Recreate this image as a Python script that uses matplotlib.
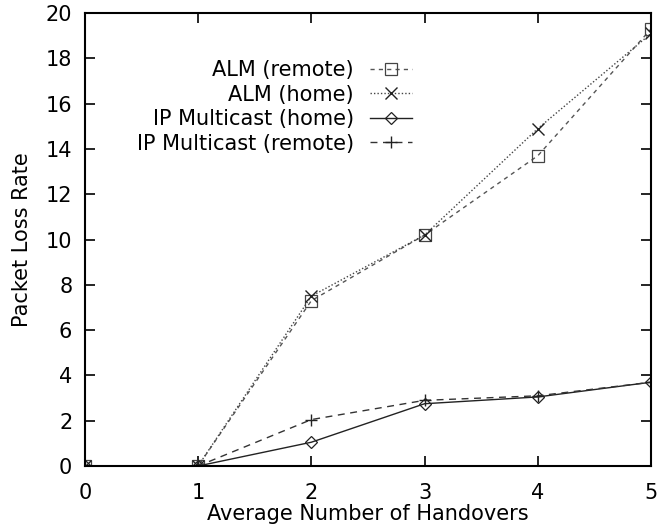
import matplotlib
matplotlib.use('Agg')
import matplotlib.pyplot as plt

handovers = [0, 1, 2, 3, 4, 5]
alm_remote = [0, 0, 7.3, 10.2, 13.7, 19.3]
alm_home = [0, 0, 7.5, 10.2, 14.9, 19.1]
ip_home = [0, 0, 1.05, 2.75, 3.05, 3.7]
ip_remote = [0, 0, 2.05, 2.9, 3.1, 3.7]

plt.rcParams['font.family'] = ['DejaVu Sans']

fig = plt.figure(figsize=(6.63, 5.31), dpi=100)
ax = fig.add_axes([0.128, 0.1224, 0.854, 0.853])

ax.plot(handovers, alm_remote, color='#555555', linestyle=(0, (3, 3)), linewidth=1.0,
        marker='s', markersize=8, markerfacecolor='none', markeredgecolor='#444444',
        markeredgewidth=0.9, label='ALM (remote)')
ax.plot(handovers, alm_home, color='#444444', linestyle=(0, (1, 1.5)), linewidth=1.0,
        marker='x', markersize=9, markeredgecolor='#222222', markeredgewidth=1.0,
        label='ALM (home)')
ax.plot(handovers, ip_home, color='#222222', linestyle='-', linewidth=1.0,
        marker='D', markersize=6, markerfacecolor='none', markeredgecolor='#222222',
        markeredgewidth=0.9, label='IP Multicast (home)')
ax.plot(handovers, ip_remote, color='#333333', linestyle=(0, (5, 4)), linewidth=1.0,
        marker='+', markersize=9, markeredgecolor='#222222', markeredgewidth=1.0,
        label='IP Multicast (remote)')

ax.set_xlim(0, 5)
ax.set_ylim(0, 20)
ax.set_xticks(range(0, 6))
ax.set_yticks(range(0, 21, 2))
ax.tick_params(direction='in', top=True, right=True, length=7, width=1.2,
               labelsize=15)
ax.tick_params(axis='x', pad=12)
ax.tick_params(axis='y', pad=9)
for s in ax.spines.values():
    s.set_linewidth(1.5)

ax.set_xlabel('Average Number of Handovers', fontsize=15, labelpad=1)
ax.set_ylabel('Packet Loss Rate', fontsize=15, labelpad=10)

leg = ax.legend(loc='upper right', bbox_to_anchor=(412 / 663, 1 - 60 / 531),
                bbox_transform=fig.transFigure, frameon=False, markerfirst=False,
                fontsize=15, handlelength=2.0, handletextpad=0.8,
                labelspacing=0.22, borderaxespad=0, borderpad=0)
for t in leg.get_texts():
    t.set_ha('right')

fig.savefig('out.png', dpi=100)
